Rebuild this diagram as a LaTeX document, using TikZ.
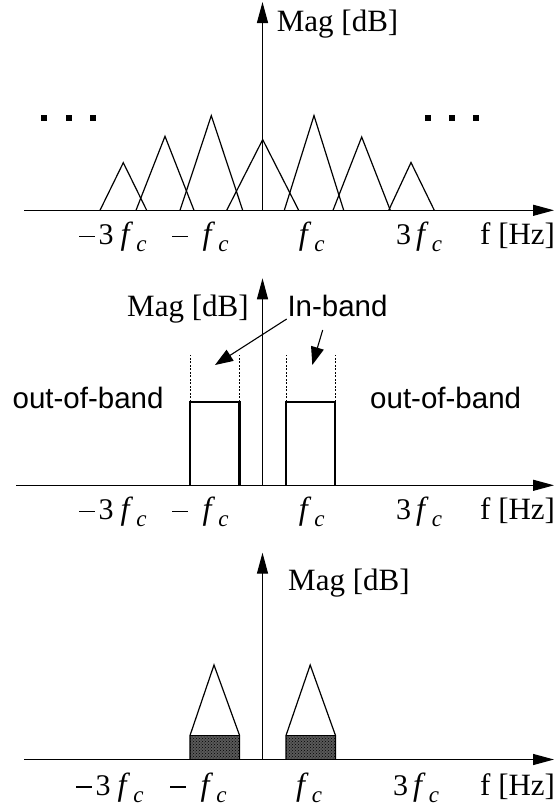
\documentclass[tikz,border=0pt]{standalone}
\usepackage{fontspec}
\setmainfont{Liberation Serif}
\newfontfamily\sansf{Liberation Sans}
\usetikzlibrary{arrows.meta,patterns}
\newcommand{\fcsym}{{\fontsize{32}{32}\selectfont\textit{f}}\kern3pt\raisebox{-7.4pt}{\fontsize{23}{23}\selectfont\textit{c}}}
\newcommand{\mrule}{\rule[7.5pt]{15.5pt}{1.2pt}}
\begin{document}
\begin{tikzpicture}[x=1pt,y=-1pt,
 axis/.style={line width=1.3pt,-{Triangle[length=21pt,width=11pt]}},
 tri/.style={line width=1.2pt, line join=miter},
 band/.style={line width=2.4pt},
 guide/.style={line width=0.8pt, dash pattern=on 2pt off 1.5pt},
 pointer/.style={line width=1.1pt,-{Triangle[length=18pt,width=13pt]}},
 lab/.style={anchor=base west, inner sep=0pt, font=\fontsize{31}{36}\selectfont},
 flab/.style={anchor=base west, inner sep=0pt, font=\fontsize{30}{34}\selectfont},
 slab/.style={anchor=base west, inner sep=0pt, font=\sansf\fontsize{29.5}{35}\selectfont},
 dotmark/.style={fill=black, minimum size=6pt, inner sep=0pt, draw=none, shape=rectangle}
]
\useasboundingbox (0,0) rectangle (554,809);

% ---------- panel 1 ----------
\coordinate (o1) at (262.5,210.3);
\coordinate (xl1) at (24,210.3);
\coordinate (xr1) at (554,210.3);
\coordinate (yt1) at (262.5,2);
\draw[axis] (xl1) -- (xr1);
\draw[axis] (o1) -- (yt1);
\draw[tri] (100,210.3) -- (123.3,162.7) -- (146.7,210.3);
\draw[tri] (136,210.3) -- (165,136.3) -- (194,210.3);
\draw[tri] (180,210.3) -- (211.3,115.6) -- (242.7,210.3);
\draw[tri] (226.7,210.3) -- (262.7,139.6) -- (298.7,210.3);
\draw[tri] (284.3,210.3) -- (314,115.6) -- (343.7,210.3);
\draw[tri] (333,210.3) -- (361.7,137) -- (390.3,210.3);
\draw[tri] (388.7,210.3) -- (411,162.5) -- (434.3,210.3);
\node[dotmark] (d1) at (44.2,118.3) {};
\node[dotmark] (d2) at (68.9,118.3) {};
\node[dotmark] (d3) at (92.6,118.3) {};
\node[dotmark] (d4) at (428.3,118.3) {};
\node[dotmark] (d5) at (452.3,118.3) {};
\node[dotmark] (d6) at (476.3,118.3) {};
\node[lab] (mag1) at (276.7,31) {Mag [dB]};
\node[flab] (a1) at (79,244.3) {\mrule\hspace{4pt}3\hspace{7pt}\fcsym};
\node[flab] (b1) at (172,244.3) {\mrule\hspace{15pt}\fcsym};
\node[flab] (c1) at (298.7,244.3) {\fcsym};
\node[flab] (e1) at (396,244.3) {3\hspace{5pt}\fcsym};
\node[lab] (h1) at (480,244.3) {f [Hz]};

% ---------- panel 2 ----------
\coordinate (o2) at (262.5,485.3);
\coordinate (xl2) at (16,485.3);
\coordinate (xr2) at (554,485.3);
\coordinate (yt2) at (262.5,278.3);
\draw[axis] (xl2) -- (xr2);
\draw[axis] (o2) -- (yt2);
\draw[guide] (190,401.7) -- (190,355);
\draw[guide] (239.6,401.7) -- (239.6,355);
\draw[guide] (286.2,401.7) -- (286.2,355);
\draw[guide] (335,401.7) -- (335,355);
\draw[band] (190,485.3) -- (190,401.7) -- (239.6,401.7) -- (239.6,485.3);
\draw[band] (286.2,485.3) -- (286.2,401.7) -- (335,401.7) -- (335,485.3);
\node[lab] (mag2) at (127,316) {Mag [dB]};
\node[slab] (inb) at (287.3,316.7) {In-band};
\coordinate (p1s) at (286.7,319);
\coordinate (p1e) at (215,365);
\coordinate (p2s) at (322.7,330);
\coordinate (p2e) at (312.3,365);
\draw[pointer] (p1s) -- (p1e);
\draw[pointer] (p2s) -- (p2e);
\node[slab] (oob1) at (12.4,408.3) {out-of-band};
\node[slab] (oob2) at (370,408.3) {out-of-band};
\node[flab] (a2) at (79,519.3) {\mrule\hspace{4pt}3\hspace{7pt}\fcsym};
\node[flab] (b2) at (172,519.3) {\mrule\hspace{15pt}\fcsym};
\node[flab] (c2) at (298.7,519.3) {\fcsym};
\node[flab] (e2) at (396,519.3) {3\hspace{5pt}\fcsym};
\node[lab] (h2) at (480,519.3) {f [Hz]};

% ---------- panel 3 ----------
\coordinate (o3) at (262.5,759.5);
\coordinate (xl3) at (24,759.5);
\coordinate (xr3) at (554,759.5);
\coordinate (yt3) at (262.5,552.7);
\fill[black!65] (190,735.5) rectangle (239.6,759.5);
\fill[pattern=crosshatch dots, pattern color=black] (190,735.5) rectangle (239.6,759.5);
\fill[black!65] (286,735.5) rectangle (335.5,759.5);
\fill[pattern=crosshatch dots, pattern color=black] (286,735.5) rectangle (335.5,759.5);
\draw[tri] (190,759.5) -- (190,735.5) -- (214,665) -- (239.6,735.5) -- (239.6,759.5);
\draw[tri] (190,735.5) -- (239.6,735.5);
\draw[tri] (286,759.5) -- (286,735.5) -- (310.2,665) -- (335.5,735.5) -- (335.5,759.5);
\draw[tri] (286,735.5) -- (335.5,735.5);
\draw[axis] (xl3) -- (xr3);
\draw[axis] (o3) -- (yt3);
\node[lab] (mag3) at (288,590) {Mag [dB]};
\node[flab] (a3) at (76,795) {\mrule\hspace{4pt}3\hspace{7pt}\fcsym};
\node[flab] (b3) at (170,795) {\mrule\hspace{15pt}\fcsym};
\node[flab] (c3) at (296,795) {\fcsym};
\node[flab] (e3) at (393,795) {3\hspace{5pt}\fcsym};
\node[lab] (h3) at (480,795) {f [Hz]};
\end{tikzpicture}
\end{document}
